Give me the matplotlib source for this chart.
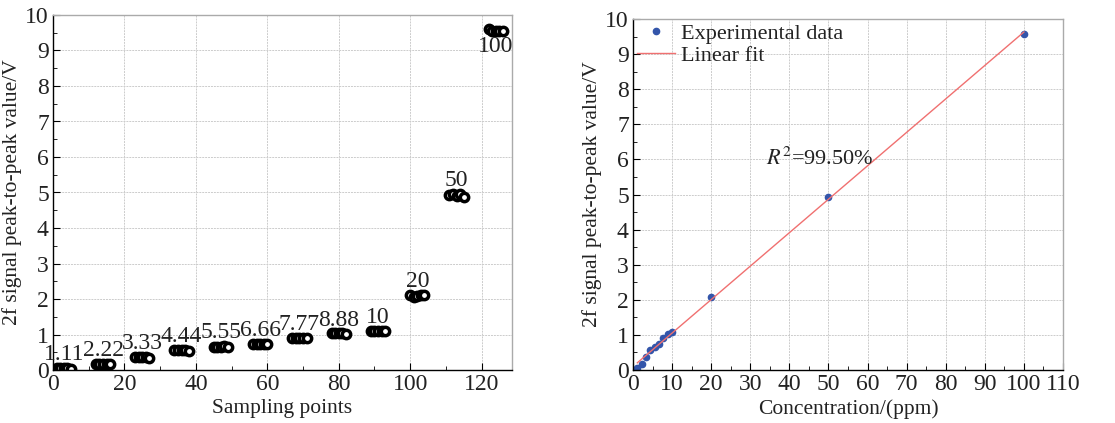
import matplotlib.pyplot as plt
import numpy as np

plt.rcParams['font.family'] = ['Liberation Serif', 'DejaVu Serif']
plt.rcParams['mathtext.fontset'] = 'stix'

# concentration levels (ppm) and 5 samples per level
conc = [1.11, 2.22, 3.33, 4.44, 5.55, 6.66, 7.77, 8.88, 10, 20, 50, 100]
conc_labels = ['1.11', '2.22', '3.33', '4.44', '5.55', '6.66', '7.77', '8.88', '10', '20', '50', '100']
group_start = [1, 12, 23, 34, 45, 56, 67, 78, 89, 100, 111, 122]
samples = [
    [0.05, 0.05, 0.05, 0.05, 0.04],
    [0.17, 0.17, 0.17, 0.17, 0.18],
    [0.36, 0.36, 0.36, 0.36, 0.35],
    [0.56, 0.56, 0.56, 0.56, 0.54],
    [0.66, 0.66, 0.66, 0.67, 0.66],
    [0.74, 0.74, 0.74, 0.74, 0.74],
    [0.91, 0.91, 0.91, 0.91, 0.90],
    [1.03, 1.03, 1.03, 1.03, 1.02],
    [1.10, 1.10, 1.10, 1.09, 1.09],
    [2.12, 2.05, 2.08, 2.12, 2.10],
    [4.94, 4.97, 4.90, 4.95, 4.88],
    [9.61, 9.56, 9.55, 9.56, 9.55],
]

fig = plt.figure(figsize=(11.15, 4.23), dpi=100)
ax1 = fig.add_axes([53 / 1115, 53 / 423, 459 / 1115, 355 / 423])
ax2 = fig.add_axes([633 / 1115, 53 / 423, 430 / 1115, 351 / 423])

grid_kw = dict(color='#cccccc', linestyle=(0, (2, 1)), linewidth=0.7)
txt = '#222222'

# left: raw sampling points
for start, vals, lab in zip(group_start, samples, conc_labels):
    xs = np.arange(start, start + len(vals))
    ax1.plot(xs, vals, 'o', ms=6, mfc='white', mec='black', mew=2.5, ls='none')
    xc = xs.mean()
    if lab == '100':
        ax1.text(xc, max(vals) - 0.2, lab, ha='center', va='top', fontsize=17, color=txt)
    else:
        ax1.text(xc, max(vals) + 0.08, lab, ha='center', va='bottom', fontsize=17, color=txt)

ax1.set_xlim(0, 128.5)
ax1.set_ylim(0, 10)
ax1.set_xticks(np.arange(0, 121, 20))
ax1.set_xticks(np.arange(0, 129, 10), minor=True)
ax1.set_yticks(np.arange(0, 11, 1))
ax1.set_yticks(np.arange(0, 10.1, 0.5), minor=True)
ax1.set_xlabel('Sampling points', fontsize=15.5, labelpad=3, color=txt)
ax1.set_ylabel('2f signal peak-to-peak value/V', fontsize=15.5, labelpad=2, color=txt)
ax1.grid(True, **grid_kw)

# right: mean vs concentration with linear fit
means = [np.mean(v) for v in samples]
k, b = np.polyfit(conc, means, 1)
xf = np.array([conc[0], conc[-1]])
ax2.plot(conc, means, 'o', color='#3355aa', ms=4.5, ls='none', label='Experimental data')
ax2.plot(xf, k * xf + b, color='#f07070', lw=1, label='Linear fit')
ax2.text(34, 5.85, r'$R^2$=99.50%', fontsize=16, color=txt)
leg = ax2.legend(loc='upper left', frameon=False, fontsize=16, handlelength=1.7,
                 borderaxespad=0.0, borderpad=0.2, handletextpad=0.25, labelspacing=0.05)
for t in leg.get_texts():
    t.set_color(txt)

ax2.set_xlim(0, 110)
ax2.set_ylim(0, 10)
ax2.set_xticks(np.arange(0, 111, 10))
ax2.set_xticks(np.arange(0, 111, 5), minor=True)
ax2.set_yticks(np.arange(0, 11, 1))
ax2.set_yticks(np.arange(0, 10.1, 0.5), minor=True)
ax2.set_xlabel('Concentration/(ppm)', fontsize=15.5, labelpad=3, color=txt)
ax2.set_ylabel('2f signal peak-to-peak value/V', fontsize=15.5, labelpad=2, color=txt)
ax2.grid(True, **grid_kw)

for ax in (ax1, ax2):
    ax.tick_params(which='both', direction='in', labelsize=17, pad=3, labelcolor=txt)
    ax.tick_params(which='major', length=5)
    ax.tick_params(which='minor', length=3)
    for s in ax.spines.values():
        s.set_linewidth(1.0)
    ax.spines['top'].set_color('#aaaaaa')
    ax.spines['right'].set_color('#aaaaaa')

fig.savefig('out.png', dpi=100)
